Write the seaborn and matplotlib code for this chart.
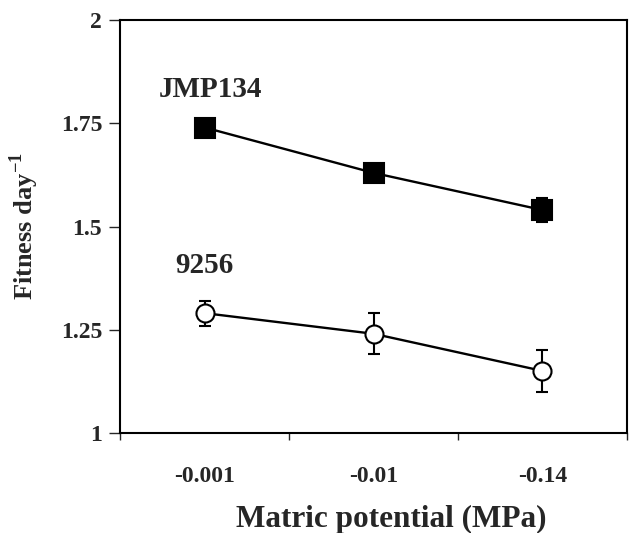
import matplotlib
matplotlib.use("Agg")
import matplotlib.pyplot as plt
import seaborn as sns
import pandas as pd

categories = ["-0.001", "-0.01", "-0.14"]
jmp_mean = [1.74, 1.63, 1.54]
jmp_err = [0.01, 0.01, 0.03]
s9256_mean = [1.29, 1.24, 1.15]
s9256_err = [0.03, 0.05, 0.05]

sns.set_theme(style="white")
plt.rcParams['font.family'] = ['Liberation Serif', 'DejaVu Serif']
plt.rcParams['mathtext.fontset'] = 'custom'
plt.rcParams['mathtext.rm'] = 'Liberation Serif'
plt.rcParams['mathtext.bf'] = 'Liberation Serif:bold'

df = pd.DataFrame({
    "potential": categories * 2,
    "fitness": jmp_mean + s9256_mean,
    "err": jmp_err + s9256_err,
    "strain": ["JMP134"] * 3 + ["9256"] * 3,
})

fig = plt.figure(figsize=(6.43, 5.33), dpi=100)
ax = fig.add_axes([0.187, 0.188, 0.788, 0.774])

for strain, face, mk, ms in [("JMP134", "black", "s", 14), ("9256", "white", "o", 13)]:
    sub = df[df.strain == strain]
    ax.errorbar(sub["potential"], sub["fitness"], yerr=sub["err"], fmt="none",
                ecolor="black", elinewidth=1.5, capsize=4.5, capthick=1.5, zorder=2)
    sns.lineplot(data=sub, x="potential", y="fitness", ax=ax, color="black",
                 linewidth=1.7, marker=mk, markersize=ms, markerfacecolor=face,
                 markeredgecolor="black", markeredgewidth=1.5, sort=False, zorder=3)

ax.set_xlim(-0.5, 2.5)
ax.set_ylim(1, 2)
ax.set_yticks([1, 1.25, 1.5, 1.75, 2])
ax.set_yticklabels(["1", "1.25", "1.5", "1.75", "2"])
ax.set_xticks([0, 1, 2])
ax.set_xticklabels(categories)
ax.set_xticks([-0.5, 0.5, 1.5, 2.5], minor=True)
ax.tick_params(axis="x", which="major", length=0, pad=24, labelsize=17)
ax.tick_params(axis="x", which="minor", length=5, width=1, direction="out", bottom=True)
ax.tick_params(axis="y", which="major", length=8, width=1, direction="out", left=True, labelsize=17, pad=5)
for lbl in ax.get_xticklabels() + ax.get_yticklabels():
    lbl.set_fontweight("bold")

for s in ax.spines.values():
    s.set_color("black")
    s.set_linewidth(1.5)

ax.set_xlabel("Matric potential (MPa)", fontsize=22.5, fontweight="bold", va="baseline")
ax.xaxis.set_label_coords(0.535, -0.2276)
ax.set_ylabel(r"Fitness day$^{\mathbf{-1}}$", fontsize=19, fontweight="bold", labelpad=14)

ax.text(0.033, 1.813, "JMP134", fontsize=21, fontweight="bold", ha="center", va="baseline")
ax.text(0.0, 1.388, "9256", fontsize=21, fontweight="bold", ha="center", va="baseline")

fig.savefig("out.png", dpi=100)
